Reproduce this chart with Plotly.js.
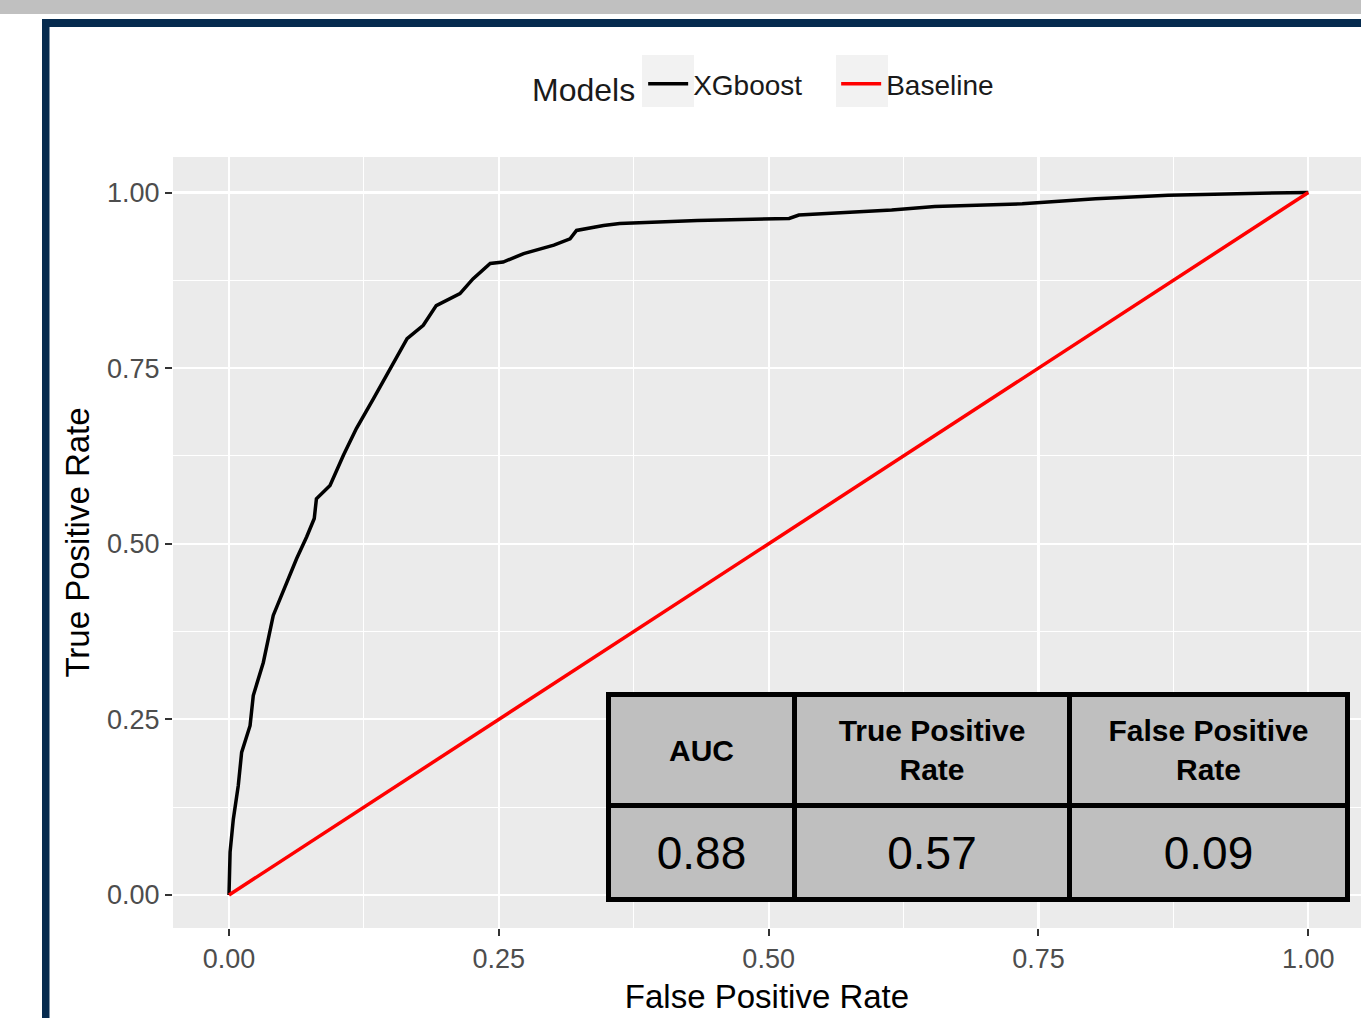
<!DOCTYPE html>
<html>
<head>
<meta charset="utf-8">
<script src="https://cdn.plot.ly/plotly-3.0.1.min.js"></script>
<style>
  html, body { margin: 0; padding: 0; background: #ffffff; }
  #chart { width: 1361px; height: 1018px; }
</style>
</head>
<body>
<div id="chart"></div>
<script>
// ---- data ----
const xgbFpr = [0, 0.001, 0.004, 0.0086, 0.0117, 0.0195, 0.0225, 0.0318, 0.041, 0.0535, 0.0627, 0.072, 0.079, 0.081, 0.0936, 0.106, 0.118, 0.134, 0.149, 0.165, 0.180, 0.192, 0.214, 0.226, 0.242, 0.254, 0.273, 0.301, 0.316, 0.322, 0.347, 0.362, 0.434, 0.519, 0.528, 0.577, 0.614, 0.654, 0.735, 0.803, 0.870, 0.955, 1.0];
const xgbTpr = [0, 0.061, 0.108, 0.156, 0.203, 0.241, 0.284, 0.331, 0.398, 0.445, 0.479, 0.510, 0.536, 0.564, 0.583, 0.626, 0.664, 0.707, 0.749, 0.792, 0.811, 0.839, 0.856, 0.877, 0.899, 0.901, 0.913, 0.925, 0.934, 0.946, 0.953, 0.956, 0.960, 0.963, 0.968, 0.972, 0.975, 0.980, 0.984, 0.991, 0.996, 0.999, 1.0];
const baseFpr = [0, 1];
const baseTpr = [0, 1];
const seriesNames = ['XGboost', 'Baseline'];
const tableHeaders = ['AUC', 'True Positive<br>Rate', 'False Positive<br>Rate'];
const tableValues = ['0.88', '0.57', '0.09'];
const tickVals = [0, 0.25, 0.5, 0.75, 1];

// ---- geometry helpers (pixel -> data / paper) ----
const W = 1361, H = 1018;
const M = {l: 173, r: 0, t: 157, b: 90};
const X0PX = 229, XUNIT = 1079.3;
const Y0PX = 895, YUNIT = 702.5;
const xRange = [(M.l - X0PX) / XUNIT, (W - M.r - X0PX) / XUNIT];
const yRange = [(Y0PX - (H - M.b)) / YUNIT, (Y0PX - M.t) / YUNIT];
const dx = px => (px - X0PX) / XUNIT;
const dy = py => (Y0PX - py) / YUNIT;
const plotW = W - M.l - M.r, plotH = H - M.t - M.b;
const px2paperX = px => (px - M.l) / plotW;
const py2paperY = py => (H - M.b - py) / plotH;

const FONT = 'Liberation Sans, Arial, Helvetica, sans-serif';

const traces = [
  {x: xgbFpr, y: xgbTpr, type: 'scatter', mode: 'lines', name: seriesNames[0],
   line: {color: '#000000', width: 3.5}},
  {x: baseFpr, y: baseTpr, type: 'scatter', mode: 'lines', name: seriesNames[1],
   line: {color: '#FF0000', width: 3.5}}
];

// table cells as boxed annotations
const colEdges = [[606, 797], [792, 1072], [1067, 1350]];
const headRow = [692, 808];
const valRow = [803, 902];
const BW = 5;
const annotations = [];
function cell(text, cx, ry, size, bold) {
  annotations.push({
    x: dx((cx[0] + cx[1]) / 2), y: dy((ry[0] + ry[1]) / 2),
    xref: 'x', yref: 'y', xanchor: 'center', yanchor: 'middle',
    width: (cx[1] - cx[0]) - 2 * BW, height: (ry[1] - ry[0]) - 2 * BW,
    text: bold ? '<b>' + text + '</b>' : text,
    showarrow: false, align: 'center', valign: 'middle',
    bgcolor: '#BFBFBF', bordercolor: '#000000', borderwidth: BW, borderpad: 0,
    font: {family: FONT, size: size, color: '#000000'}
  });
}
tableHeaders.forEach((h, i) => cell(h, colEdges[i], headRow, 30, true));
tableValues.forEach((v, i) => cell(v, colEdges[i], valRow, 46, false));

// decoration shapes: top gray bar, navy frame, legend key backgrounds
const keyBox = (cx) => ({type: 'rect', xref: 'paper', yref: 'paper', layer: 'below',
   x0: px2paperX(cx - 26), x1: px2paperX(cx + 26), y0: py2paperY(55), y1: py2paperY(107),
   fillcolor: '#F2F2F2', line: {width: 0}});
const shapes = [
  {type: 'rect', xref: 'paper', yref: 'paper', layer: 'below',
   x0: px2paperX(0), x1: px2paperX(W), y0: py2paperY(0), y1: py2paperY(14),
   fillcolor: '#C0C0C0', line: {width: 0}},
  {type: 'rect', xref: 'paper', yref: 'paper', layer: 'below',
   x0: px2paperX(42), x1: px2paperX(W), y0: py2paperY(19), y1: py2paperY(27),
   fillcolor: '#062B4F', line: {width: 0}},
  {type: 'rect', xref: 'paper', yref: 'paper', layer: 'below',
   x0: px2paperX(42), x1: px2paperX(49.5), y0: py2paperY(19), y1: py2paperY(H),
   fillcolor: '#062B4F', line: {width: 0}},
  keyBox(668),
  keyBox(862)
];

const axisCommon = {
  tickvals: tickVals, tickformat: '.2f',
  ticks: 'outside', ticklen: 7, tickwidth: 2, tickcolor: '#333333',
  tickfont: {family: FONT, size: 27, color: '#4D4D4D'},
  showgrid: true, gridcolor: '#FFFFFF', gridwidth: 2.2,
  zeroline: false, showline: false,
  minor: {dtick: 0.125, showgrid: true, gridcolor: '#FFFFFF', gridwidth: 1.1}
};

const layout = {
  width: W, height: H,
  margin: M,
  paper_bgcolor: '#FFFFFF', plot_bgcolor: '#EBEBEB',
  font: {family: FONT, color: '#000000'},
  showlegend: true,
  legend: {
    orientation: 'h', x: px2paperX(530), xanchor: 'left', y: py2paperY(85), yanchor: 'middle',
    itemwidth: 40, entrywidth: 138, entrywidthmode: 'pixels',
    title: {text: 'Models', side: 'left', font: {family: FONT, size: 32, color: '#1a1a1a'}},
    font: {family: FONT, size: 28, color: '#1a1a1a'},
    bgcolor: 'rgba(0,0,0,0)'
  },
  xaxis: Object.assign({}, axisCommon, {
    range: xRange,
    title: {text: 'False Positive Rate', font: {family: FONT, size: 33, color: '#000000'}, standoff: 11}
  }),
  yaxis: Object.assign({}, axisCommon, {
    range: yRange,
    title: {text: 'True Positive Rate', font: {family: FONT, size: 33, color: '#000000'}, standoff: 7}
  }),
  shapes: shapes,
  annotations: annotations
};

Plotly.newPlot('chart', traces, layout, {displayModeBar: false, staticPlot: true});
</script>
</body>
</html>
